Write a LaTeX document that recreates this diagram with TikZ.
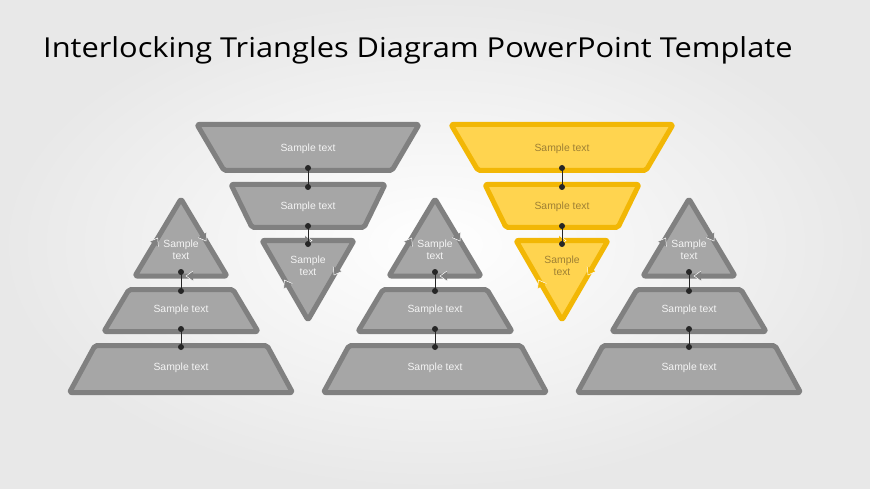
\documentclass[tikz,border=0pt]{standalone}
\usepackage{fontspec}
\setmainfont{Liberation Sans}
\newfontfamily\titlefont{Open Sans}
\definecolor{gfill}{HTML}{A6A6A6}
\definecolor{gline}{HTML}{808080}
\definecolor{gtext}{HTML}{F4F4F4}
\definecolor{yfill}{HTML}{FFD44F}
\definecolor{yline}{HTML}{F2B705}
\definecolor{ytext}{HTML}{9E8034}
\tikzset{
  blk/.style={line width=5pt, line join=round, rounded corners=2pt},
  g blk/.style={blk, fill=gfill, draw=gline},
  y blk/.style={blk, fill=yfill, draw=yline},
  lbl/.style={font=\fontsize{10.4}{12}\selectfont, align=center, inner sep=0pt},
  conn/.style={line width=0.9pt, draw=black!85},
  dotmark/.style={fill=black!85},
}
\newcommand{\flowtip}[4]{%
  \begin{scope}[shift={(#1,#2)},rotate=#3]
    \fill[#4] (0,0) -- (-7,5) -- (-7,-5) -- cycle;
    \draw[white,line width=0.5pt,line join=miter] (-7,5) -- (0,0) -- (-7,-5);
  \end{scope}}
\newcommand{\upgroup}[3]{%
  \begin{scope}[shift={(#1,0)}]
    \draw[#3 blk] (0,199) -- (46,276) -- (-46,276) -- cycle;
    \draw[#3 blk] (-52,289.5) -- (52,289.5) -- (77,331.5) -- (-77,331.5) -- cycle;
    \draw[#3 blk] (-86,345.5) -- (86,345.5) -- (111.5,392.5) -- (-111.5,392.5) -- cycle;
    \flowtip{-23.3}{238}{59}{#3line}
    \flowtip{25}{241}{-59}{#3line}
    \flowtip{5}{276}{180}{#3line}
    \node[lbl,text=#3text] (#2top) at (0,249.5) {Sample\\text};
    \node[lbl,text=#3text] (#2mid) at (0,309.5) {Sample text};
    \node[lbl,text=#3text] (#2bot) at (0,367.5) {Sample text};
    \coordinate (#2da) at (0,272);
    \coordinate (#2db) at (0,291);
    \coordinate (#2dc) at (0,329);
    \coordinate (#2dd) at (0,347);
    \draw[conn] (#2da) -- (#2db);
    \draw[conn] (#2dc) -- (#2dd);
    \fill[dotmark] (#2da) circle (3pt) (#2db) circle (3pt) (#2dc) circle (3pt) (#2dd) circle (3pt);
  \end{scope}}
\newcommand{\downgroup}[3]{%
  \begin{scope}[shift={(#1,0)}]
    \draw[#3 blk] (-111,124.5) -- (111,124.5) -- (84,170.5) -- (-84,170.5) -- cycle;
    \draw[#3 blk] (-77,184.5) -- (77,184.5) -- (56,227.5) -- (-56,227.5) -- cycle;
    \draw[#3 blk] (-46,240.5) -- (46,240.5) -- (0,320) -- cycle;
    \flowtip{4}{240.5}{0}{#3line}
    \flowtip{26}{275}{-120}{#3line}
    \flowtip{-23.5}{280}{120}{#3line}
    \node[lbl,text=#3text] (#2top) at (0,148.5) {Sample text};
    \node[lbl,text=#3text] (#2mid) at (0,207) {Sample text};
    \node[lbl,text=#3text] (#2bot) at (0,266) {Sample\\text};
    \coordinate (#2da) at (0,168);
    \coordinate (#2db) at (0,187);
    \coordinate (#2dc) at (0,226);
    \coordinate (#2dd) at (0,244);
    \draw[conn] (#2da) -- (#2db);
    \draw[conn] (#2dc) -- (#2dd);
    \fill[dotmark] (#2da) circle (3pt) (#2db) circle (3pt) (#2dc) circle (3pt) (#2dd) circle (3pt);
  \end{scope}}
\begin{document}
\begin{tikzpicture}[x=1pt,y=-1pt]
  \useasboundingbox (0,0) rectangle (870,489);
  \shade[inner color=white, outer color=black!9] (0,0) rectangle (870,489);
  \node[anchor=base west, inner sep=0pt, font=\titlefont\fontsize{27.5}{32}\selectfont, text=black] (title) at (43,57.3) {\scalebox{1.12}[1]{Interlocking Triangles Diagram PowerPoint Template}};
  \upgroup{181}{A}{g}
  \downgroup{308}{B}{g}
  \upgroup{435}{C}{g}
  \downgroup{562}{D}{y}
  \upgroup{689}{E}{g}
\end{tikzpicture}
\end{document}
